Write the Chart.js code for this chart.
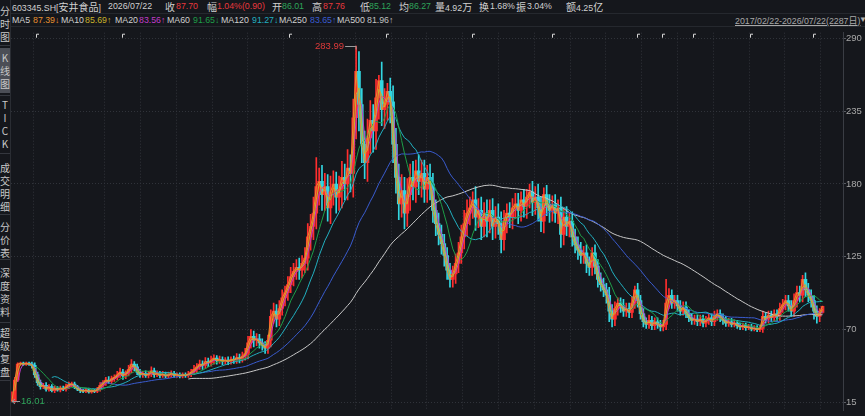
<!DOCTYPE html>
<html>
<head>
<meta charset="utf-8">
<title>603345.SH 安井食品 K线图</title>
<script src="https://cdn.jsdelivr.net/npm/chart.js@4.4.1/dist/chart.umd.min.js"></script>
<style>
  html, body { margin: 0; padding: 0; background: #15171c; }
  body { position: relative; width: 865px; height: 416px; overflow: hidden;
         font-family: "Liberation Sans", "Noto Sans CJK SC", sans-serif; font-size: 8.8px; color: #d0d0d0; }
  .t { position: absolute; white-space: nowrap; line-height: 13px; }
  .c { font-family: "Noto Sans CJK SC", sans-serif; font-size: 10px; }
  .red { color: #e8383d; }
  .green { color: #2ea55a; }
  .side { position: absolute; left: 0; width: 10px; text-align: center; font-size: 10px; line-height: 13px;
          color: #c8c8c8; font-family: "Noto Sans CJK SC", sans-serif; }
  .sep { position: absolute; left: 0; width: 10px; height: 1px; background: #34373e; }
  .hl { position: absolute; left: 0; top: 0; height: 1px; background: #25282e; }
  #range { left: 735px; top: 14px; color: #a8a8a8; text-decoration: underline; }
  #chartBox { position: absolute; left: 11px; top: 27px; }
</style>
</head>
<body>
<!-- header row 1 -->
<div class="t" style="left:12px;top:0">603345.SH[<span class="c">安井食品</span>]</div>
<div class="t" style="left:108px;top:0">2026/07/22</div>
<div class="t c" style="left:165px;top:0">收</div><div class="t red" style="left:176px;top:0">87.70</div>
<div class="t c" style="left:207px;top:0">幅</div><div class="t red" style="left:217px;top:0">1.04%(0.90)</div>
<div class="t c" style="left:272px;top:0">开</div><div class="t green" style="left:282px;top:0">86.01</div>
<div class="t c" style="left:312px;top:0">高</div><div class="t red" style="left:323px;top:0">87.76</div>
<div class="t c" style="left:360px;top:0">低</div><div class="t green" style="left:369px;top:0">85.12</div>
<div class="t c" style="left:399px;top:0">均</div><div class="t green" style="left:409px;top:0">86.27</div>
<div class="t c" style="left:435px;top:0">量</div><div class="t" style="left:445px;top:0">4.92<span class="c">万</span></div>
<div class="t c" style="left:479px;top:0">换</div><div class="t" style="left:490px;top:0">1.68%</div>
<div class="t c" style="left:516px;top:0">振</div><div class="t" style="left:527px;top:0">3.04%</div>
<div class="t c" style="left:566px;top:0">额</div><div class="t" style="left:576px;top:0">4.25<span class="c">亿</span></div>
<!-- header row 2: moving average legend -->
<div class="t" style="left:12px;top:14px">MA5</div><div class="t" style="left:33px;top:14px;color:#e8902e">87.39↓</div>
<div class="t" style="left:61px;top:14px">MA10</div><div class="t" style="left:85px;top:14px;color:#c9b32a">85.69↑</div>
<div class="t" style="left:115px;top:14px">MA20</div><div class="t" style="left:139px;top:14px;color:#c03cc8">83.56↑</div>
<div class="t" style="left:167px;top:14px">MA60</div><div class="t" style="left:193px;top:14px;color:#1e9e48">91.65↓</div>
<div class="t" style="left:221px;top:14px">MA120</div><div class="t" style="left:252px;top:14px;color:#22b0c0">91.27↓</div>
<div class="t" style="left:279px;top:14px">MA250</div><div class="t" style="left:310px;top:14px;color:#3a5cd0">83.65↑</div>
<div class="t" style="left:337px;top:14px">MA500</div><div class="t" style="left:367px;top:14px;color:#c0c0c0">81.96↑</div>
<div class="t" id="range">2017/02/22-2026/07/22(2287<span class="c" style="font-size:9px">日</span>)</div>
<div class="t" style="left:859px;top:13px;font-size:8px;color:#b0b0b0">▼</div>
<div class="hl" style="left:11px;top:13px;width:854px"></div>
<div class="hl" style="left:11px;top:26px;width:854px"></div>
<!-- side menu -->
<div style="position:absolute;left:10px;top:0;width:1px;height:416px;background:#2a2d33"></div>
<div style="position:absolute;left:0;top:48px;width:10px;height:45px;background:#4b4e56"></div>
<div class="side" style="top:4px">分<br>时<br>图</div>
<div class="sep" style="top:45px"></div>
<div class="side" style="top:51px">K<br>线<br>图</div>
<div class="sep" style="top:95px"></div>
<div class="side" style="top:98px">T<br>I<br>C<br>K</div>
<div class="sep" style="top:153px"></div>
<div class="side" style="top:161px">成<br>交<br>明<br>细</div>
<div class="sep" style="top:214px"></div>
<div class="side" style="top:220px">分<br>价<br>表</div>
<div class="sep" style="top:259px"></div>
<div class="side" style="top:266px">深<br>度<br>资<br>料</div>
<div class="sep" style="top:322px"></div>
<div class="side" style="top:326px">超<br>级<br>复<br>盘</div>
<div class="sep" style="top:380px"></div>

<div id="chartBox"><canvas id="kChart" width="854" height="389"></canvas></div>

<script>
// one sample every 8 trading days, 2017/02/22 - 2026/07/22 (2287 days)
const periodDays = 8;
const closes = [
  16.01, 32, 44, 44.5, 44, 44.5, 44, 43, 36, 30,
  27, 28, 25, 27, 24, 26, 24.5, 26, 25, 27,
  28.5, 29, 27, 25, 24, 23.5, 24.5, 23, 24, 23.5,
  25, 28, 30, 32, 31, 33, 34, 36, 38, 35,
  37, 40, 44, 42, 38, 36, 37, 35.5, 36.5, 39,
  36, 37, 35.5, 36.5, 35, 36, 37, 35.5, 36, 35,
  36, 35.5, 36.5, 38, 40, 42, 44, 43, 46, 45,
  47, 48.5, 46.5, 47.5, 46, 47, 46, 47.5, 47, 49,
  48, 50, 52, 60, 65, 62, 63, 60, 58, 56,
  62, 80, 84, 78, 86, 94, 98, 104, 110, 114,
  117, 115, 120, 124, 140, 148, 158, 178, 182, 172,
  178, 162, 174, 180, 170, 176, 185, 180, 192, 188,
  230, 265, 240, 210, 196, 215, 228, 220, 245, 258,
  236, 240, 250, 242, 210, 185, 165, 175, 158, 172,
  185, 178, 190, 182, 188, 176, 185, 180, 160, 150,
  142, 135, 126, 115, 108, 112, 120, 128, 140, 150,
  158, 162, 168, 155, 160, 148, 158, 152, 160, 148,
  155, 150, 138, 152, 158, 155, 162, 165, 160, 168,
  163, 170, 174, 166, 170, 162, 152, 172, 164, 160,
  164, 158, 162, 142, 155, 148, 152, 140, 134, 130,
  126, 128, 120, 117, 128, 118, 108, 104, 100, 96,
  84, 78, 86, 90, 88, 84, 86, 83, 90, 100,
  92, 82, 76, 74, 77, 73, 76, 74, 72, 74,
  90, 96, 90, 92, 88, 84, 87, 82, 79, 77,
  78, 76, 78, 75, 77, 79, 76, 80, 82, 79,
  77, 75, 76, 74, 75, 73, 72, 73, 71.5, 72,
  70.5, 71, 70, 71, 80, 78, 81, 79, 82, 80,
  86, 89, 92, 88, 84, 92, 98, 96, 108, 100,
  96, 92, 84, 80, 83, 87.7
];
// wick lengths above / below each body
const upWick = [
  7, 2, 1, 1, 1, 1, 1, 1.5, 2, 2,
  2, 1.5, 2, 1.5, 1.5, 1.5, 1, 1.5, 1.5, 2,
  2, 1.5, 1.5, 1, 1.5, 1, 1, 1.5, 1, 1,
  1.5, 2, 1.5, 2, 2.5, 2, 2, 2.5, 3, 2,
  2, 3, 3.5, 2, 2, 2, 1.5, 2, 2, 3,
  2, 2, 1.5, 2, 1.5, 2, 2, 1.5, 1.5, 1.5,
  1.5, 1.5, 2, 2, 3, 2.5, 3, 2.5, 3, 2.5,
  3, 2.5, 2, 2.5, 2, 2, 2.5, 2, 2.5, 3,
  2.5, 3, 4, 5, 5, 4, 4, 3.5, 3, 3,
  4, 5, 6, 5, 6, 6, 5, 6, 7, 6,
  6, 7, 6, 8, 10, 9, 12, 22, 10, 12,
  10, 9, 12, 10, 9, 10, 12, 10, 14, 10,
  14, 19, 15, 12, 10, 14, 15, 12, 14, 4,
  14, 12, 6, 10, 12, 12, 10, 12, 10, 12,
  10, 12, 8, 12, 10, 10, 9, 10, 8, 8,
  8, 7, 7, 6, 5, 6, 7, 8, 9, 10,
  10, 8, 6, 10, 9, 10, 8, 10, 8, 9,
  8, 10, 9, 8, 7, 8, 7, 8, 8, 6,
  8, 6, 6, 8, 8, 10, 8, 5, 7, 8,
  7, 8, 6, 8, 7, 8, 6, 7, 6, 6,
  6, 5, 6, 5, 4, 6, 5, 5, 5, 5,
  6, 5, 5, 4, 4, 5, 4, 4, 5, 3,
  5, 4, 4, 3, 4, 3, 3, 3, 3, 3,
  18, 5, 4, 4, 4, 4, 4, 4, 3, 3,
  3, 3, 3, 3, 3, 3, 3, 4, 3, 3,
  3, 3, 2.5, 2.5, 2.5, 2, 2, 2, 2, 2,
  2, 2, 2, 2, 4, 3, 3, 3, 3, 3,
  4, 4, 4, 4, 4, 5, 5, 5, 3, 5,
  5, 4, 4, 4, 3, 0.1
];
const dnWick = [
  0, 1, 1, 1, 1, 1, 1, 2, 2, 2,
  2, 1.5, 1.5, 1.5, 1, 1.5, 1, 1.5, 1, 1.5,
  1.5, 1.5, 1.5, 1, 1.5, 1, 1, 1, 1, 1,
  1, 1.5, 1.5, 2, 1.5, 2, 2, 2, 2, 2.5,
  2, 2, 2.5, 3, 2, 2, 2, 1.5, 2, 2,
  2, 1.5, 2, 1.5, 1.5, 1.5, 2, 1.5, 1.5, 1.5,
  1.5, 1.5, 1.5, 2, 2, 2.5, 2, 3, 2.5, 3,
  2.5, 3, 2.5, 2, 2.5, 2, 2.5, 2, 2.5, 2.5,
  3, 2.5, 3, 4, 4, 5, 4, 4, 3.5, 4,
  4, 5, 5, 6, 5, 5, 6, 6, 6, 7,
  6, 7, 6, 7, 9, 10, 10, 12, 14, 12,
  12, 10, 12, 10, 12, 10, 14, 12, 12, 14,
  18, 16, 20, 14, 12, 14, 12, 16, 14, 16,
  12, 14, 12, 16, 14, 12, 12, 10, 12, 10,
  12, 10, 12, 10, 12, 10, 10, 12, 9, 9,
  8, 8, 8, 7, 6, 6, 7, 7, 8, 9,
  9, 9, 8, 10, 8, 10, 8, 12, 9, 10,
  9, 8, 10, 8, 9, 8, 9, 8, 10, 8,
  8, 9, 8, 10, 9, 10, 8, 9, 8, 9,
  8, 7, 8, 10, 8, 7, 8, 7, 6, 7,
  6, 6, 7, 6, 6, 6, 6, 5, 5, 6,
  8, 6, 5, 5, 5, 4, 4, 4, 4, 4,
  5, 4, 4, 3, 3, 3, 3, 3, 3, 3,
  4, 4, 4, 4, 4, 3, 3, 3, 3, 3,
  3, 3, 3, 3, 3, 3, 3, 3, 3, 3,
  3, 2.5, 2.5, 2, 2, 2, 2, 2, 2, 1.5,
  1.5, 1.5, 1.5, 1.5, 3, 3, 3, 3, 3, 3,
  3, 3, 4, 4, 4, 4, 5, 5, 5, 5,
  5, 5, 6, 5, 4, 0.5
];
const maDays = [5, 10, 20, 60, 120, 250, 500];
const maColors = ['#e8902e', '#c9b32a', '#c03cc8', '#1e9e48', '#22b0c0', '#3a5cd0', '#c8c8c8'];
const yTicks = [15, 70, 125, 180, 235, 290];
const peakIdx = 121, peakHigh = 283.99;
const lowIdx = 0, lowVal = 16.01;
const eventIdx = [8.4, 38.7, 97.4, 131.5, 161.7, 189.9, 219.8, 228.6, 239.5, 259.5, 281.6];

const UP = '#ff2e2e', DOWN = '#33d6e0';

// candle bodies: open taken as the previous sample's close
const opens = closes.map((c, i) => i ? closes[i - 1] : c);
const bodies = closes.map((c, i) => ({ x: i, y: [opens[i], c] }));
const wicks = closes.map((c, i) => ({
  x: i,
  y: [Math.min(opens[i], c) - dnWick[i], Math.max(opens[i], c) + upWick[i]]
}));
const candleColors = closes.map((c, i) => c < opens[i] ? DOWN : UP);

function movingAvg(win) {
  const out = [];
  for (let i = win - 1; i < closes.length; i++) {
    let s = 0;
    for (let k = i - win + 1; k <= i; k++) s += closes[k];
    out.push({ x: i, y: s / win });
  }
  return out;
}

const maSets = maDays.map((d, n) => ({
  type: 'line',
  label: 'MA' + d,
  data: movingAvg(Math.ceil(d / periodDays)),
  borderColor: maColors[n],
  borderWidth: 1,
  pointRadius: 0,
  tension: 0,
  order: n
}));

const xMin = -0.35, xMax = 292.2;

const marks = {
  id: 'marks',
  afterDatasetsDraw(chart) {
    const { ctx, chartArea } = chart;
    const x = chart.scales.x, y = chart.scales.y;
    ctx.save();
    // event flags along the top
    ctx.strokeStyle = '#d8d8d8';
    ctx.lineWidth = 1;
    eventIdx.forEach(v => {
      const px = Math.round(x.getPixelForValue(v)) + 0.5;
      ctx.beginPath();
      ctx.moveTo(px, chartArea.top + 5);
      ctx.lineTo(px, chartArea.top + 1.5);
      ctx.lineTo(px + 2.5, chartArea.top + 1.5);
      ctx.stroke();
    });
    // highest price
    const hx = x.getPixelForValue(peakIdx), hy = Math.round(y.getPixelForValue(peakHigh)) + 0.5;
    ctx.strokeStyle = '#9a9a9a';
    ctx.beginPath();
    ctx.moveTo(hx - 11, hy);
    ctx.lineTo(hx, hy);
    ctx.lineTo(hx, hy + 3);
    ctx.stroke();
    ctx.font = '9.5px "Liberation Sans"';
    ctx.textBaseline = 'middle';
    ctx.textAlign = 'right';
    ctx.fillStyle = '#e03a3a';
    ctx.fillText(peakHigh.toFixed(2), hx - 12, hy);
    // lowest price
    const lx = x.getPixelForValue(lowIdx), ly = Math.round(y.getPixelForValue(lowVal)) + 0.5;
    ctx.strokeStyle = '#9a9a9a';
    ctx.beginPath();
    ctx.moveTo(lx, ly);
    ctx.lineTo(lx + 8, ly);
    ctx.moveTo(lx + 3, ly - 2.5);
    ctx.lineTo(lx, ly);
    ctx.lineTo(lx + 3, ly + 2.5);
    ctx.stroke();
    ctx.textAlign = 'left';
    ctx.fillStyle = '#2ea55a';
    ctx.fillText(lowVal.toFixed(2), lx + 9, ly);
    ctx.restore();
  }
};

new Chart(document.getElementById('kChart'), {
  type: 'bar',
  data: {
    datasets: [
      ...maSets,
      {
        type: 'bar',
        label: 'K',
        data: bodies,
        backgroundColor: candleColors,
        borderWidth: 0,
        barThickness: 3,
        minBarLength: 1,
        grouped: false,
        order: 20
      },
      {
        type: 'bar',
        label: 'wick',
        data: wicks,
        backgroundColor: candleColors,
        borderWidth: 0,
        barThickness: 1,
        grouped: false,
        order: 21
      }
    ]
  },
  options: {
    responsive: false,
    animation: false,
    layout: { padding: 0 },
    plugins: { legend: { display: false }, tooltip: { enabled: false } },
    scales: {
      x: {
        type: 'linear',
        min: xMin,
        max: xMax,
        offset: false,
        afterBuildTicks: s => {
          const t = [];
          for (let v = 278.1; v > xMin; v -= 12.59) t.push({ value: v });
          s.ticks = t.reverse();
        },
        ticks: { display: false },
        grid: { color: '#30333a', lineWidth: 1, drawTicks: false },
        border: { display: false, dash: [1, 2] }
      },
      y: {
        position: 'right',
        min: 9.14,
        max: 294.18,
        afterBuildTicks: s => { s.ticks = yTicks.map(v => ({ value: v })); },
        afterFit: s => { s.width = 22; },
        ticks: {
          color: '#a8a8a8',
          padding: 0,
          font: { size: 9.5, family: '"Liberation Sans"' },
          callback: v => String(v)
        },
        grid: { color: '#30333a', lineWidth: 1, drawTicks: true, tickLength: 3, tickColor: '#5a5d64' },
        border: { display: true, color: '#3a3d44', dash: [1, 2] }
      }
    }
  },
  plugins: [marks]
});
</script>
</body>
</html>
